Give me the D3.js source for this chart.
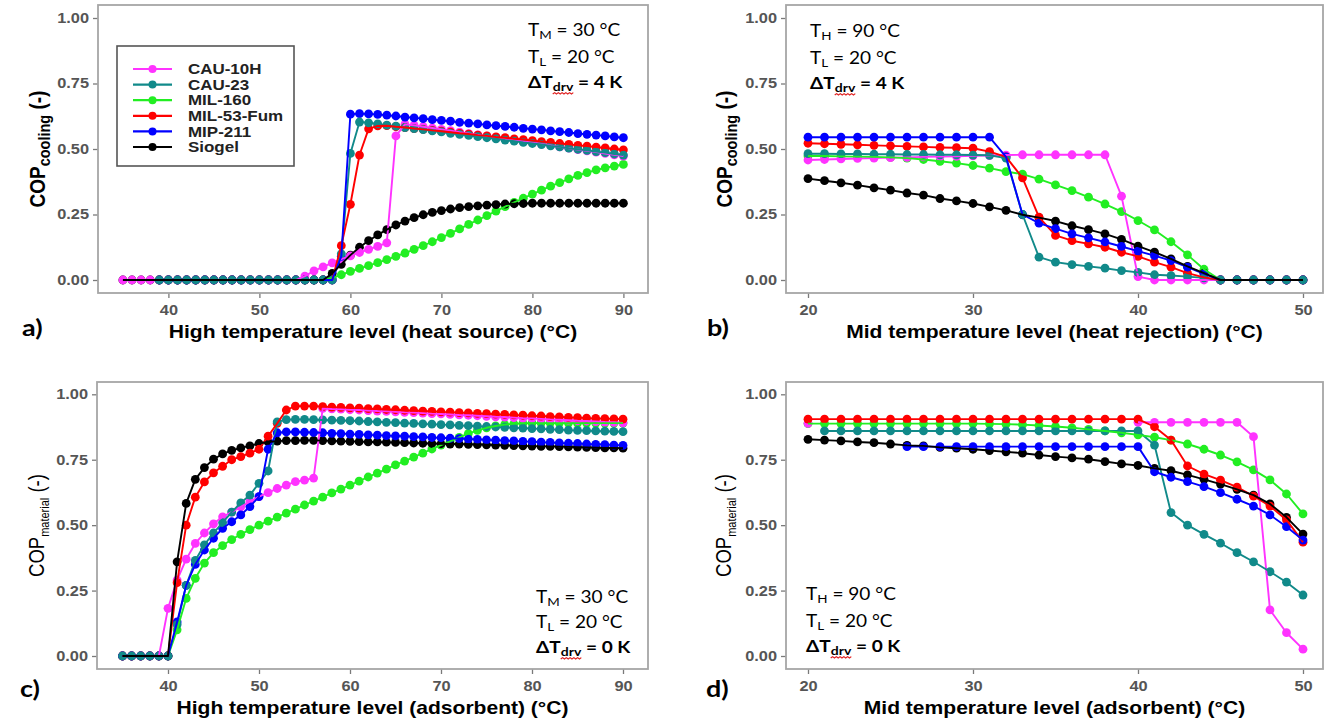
<!DOCTYPE html>
<html><head><meta charset="utf-8">
<script src="https://cdn.jsdelivr.net/npm/d3@7"></script>
<style>body{margin:0;background:#fff}</style>
</head><body>
<svg id="chart" width="1335" height="721"></svg>
<script>
// ---------------- DATA ----------------
const SERIES = ["CAU-10H","CAU-23","MIL-160","MIL-53-Fum","MIP-211","Siogel"];
const COLORS = ["#ff33ff","#118a8a","#22ee22","#ff0000","#0000ff","#000000"];
const Y_TICKS = [0,0.25,0.5,0.75,1];
const X_TICKS_HIGH = [40,50,60,70,80,90];
const X_TICKS_MID = [20,30,40,50];

const X_A = [35,36,37,38,39,40,41,42,43,44,45,46,47,48,49,50,51,52,53,54,55,56,57,58,59,60,61,62,63,64,65,66,67,68,69,70,71,72,73,74,75,76,77,78,79,80,81,82,83,84,85,86,87,88,89,90];
const X_B = [20,21,22,23,24,25,26,27,28,29,30,31,32,33,34,35,36,37,38,39,40,41,42,43,44,45,46,47,48,49,50];
const X_C = X_A;
const X_D = X_B;

// a) COP cooling vs high temperature
const A_CAU10H = [0,0,0,0,0,0,0,0,0,0, 0,0,0,0,0,0,0,0,0,0, .015,.035,.05,.065,.08,.092,.105,.117,.128,.142, .55,.594,.59,.585,.58,.575,.57,.564,.559,.554, .549,.544,.539,.534,.529,.524,.519,.514,.508,.503, .498,.493,.488,.483,.478,.473];
const A_CAU23 = [null,null,null,null, 0,0,0,0,0,0,0,0,0,0, 0,0,0,0,0,0,0,0,0,0, .10,.483,.603,.60,.596,.591,.587,.582,.578,.574, .569,.565,.56,.556,.552,.547,.543,.539,.534,.53, .525,.521,.517,.512,.508,.503,.499,.495,.49,.486, .481,.477];
const A_MIL160 = [null,null,null,null, 0,0,0,0,0,0,0,0,0,0, 0,0,0,0,0,0,0,0,0, .008,.02,.033,.044,.055,.066,.078,.09,.103,.117, .131,.146,.162,.178,.195,.212,.229,.246,.263,.28, .296,.312,.328,.343,.358,.372,.386,.399,.41,.42, .428,.435,.441];
const A_MIL53 = [null,null,null,null, 0,0,0,0,0,0,0,0,0,0, 0,0,0,0,0,0,0,0,0,0, .131,.289,.477,.577,.588,.589,.585,.582,.578,.575, .571,.568,.564,.56,.557,.553,.55,.546,.543,.539, .536,.532,.528,.525,.521,.518,.514,.511,.507,.504, .5,.497];
const A_MIP211 = [null,null,null,null, 0,0,0,0,0,0,0,0,0,0, 0,0,0,0,0,0,0,0,0,0, .09,.633,.635,.634,.632,.629,.626,.622,.619,.616, .612,.609,.606,.602,.599,.596,.592,.589,.586,.583, .579,.576,.573,.569,.566,.563,.559,.556,.553,.55, .546,.543];
const A_SIOGEL = [0,0,0,0,0,0,0,0,0,0, 0,0,0,0,0,0,0,0,0,0, 0,0,0, .025,.06,.095,.125,.15,.172,.192,.21,.225,.238, .249,.258,.265,.271,.276,.28,.283,.286,.288,.29, .291,.292,.293,.293,.293,.293,.293,.293,.293,.293, .293,.293,.293];

// b) COP cooling vs mid temperature
const B_CAU10H = [.458,.46,.462,.464,.465,.467,.468,.47,.471,.472, .474,.475,.477,.478,.478,.478,.478,.478,.478,.32, .013,0,0,0,0,0,0,0,0,0, 0];
const B_CAU23 = [.482,.482,.481,.481,.48,.48,.479,.479,.478,.478, .477,.476,.465,.25,.087,.068,.059,.052,.045,.036, .029,.02,.017,.013,.008,0,0,0,0,0, 0];
const B_MIL160 = [.473,.473,.472,.471,.47,.468,.465,.46,.453,.446, .437,.427,.414,.404,.385,.363,.341,.316,.29,.261, .227,.191,.146,.096,.041,0,0,0,0,0, 0];
const B_MIL53 = [.522,.52,.518,.516,.514,.512,.51,.508,.506,.505, .503,.49,.47,.39,.24,.17,.15,.138,.125,.106, .09,.068,.049,.026,.01,0,0,0,0,0, 0];
const B_MIP211 = [.545,.545,.545,.545,.545,.545,.545,.545,.545,.545, .545,.545,.47,.25,.217,.196,.176,.161,.145,.128, .11,.093,.074,.049,.023,0,0,0,0,0, 0];
const B_SIOGEL = [.387,.379,.371,.362,.352,.343,.332,.324,.311,.302, .292,.279,.266,.249,.238,.225,.207,.192,.176,.155, .129,.106,.081,.052,.026,0,0,0,0,0, 0];

// c) COP material vs high temperature
const C_CAU10H = [0,0,0,0,0, .182,.29,.37,.43,.47, .505,.532,.55,.57,.59, .609,.624,.64,.653,.666, .672,.68,.946,.944,.943, .941,.94,.938,.936,.935, .933,.931,.93,.928,.926, .925,.923,.921,.92,.918, .916,.914,.913,.911,.909, .908,.906,.904,.903,.901, .899,.898,.896,.894,.893, .891];
const C_CAU23 = [0,0,0,0,0, 0,.12,.27,.365,.425, .47,.51,.55,.585,.615, .66,.707,.895,.903,.904, .904,.903,.902,.901,.9, .899,.898,.896,.895,.893, .892,.89,.889,.887,.886, .884,.883,.881,.88,.878, .877,.875,.874,.872,.871, .869,.868,.866,.865,.863, .862,.861,.86,.859,.858, .857];
const C_MIL160 = [0,0,0,0,0, 0,.10,.22,.297,.355, .395,.422,.445,.465,.483, .50,.515,.531,.546,.561, .577,.592,.607,.623,.638, .653,.668,.684,.699,.714, .73,.745,.76,.775,.791, .806,.82,.835,.85,.862, .872,.879,.884,.887,.889, .89,.89,.89,.89,.89, .89,.89,.89,.89,.89, .89];
const C_MIL53 = [0,0,0,0,0, 0,.28,.50,.607,.665, .70,.725,.75,.762,.775, .79,.84,.889,.94,.955, .955,.955,.953,.951,.95, .948,.947,.945,.944,.942, .941,.939,.938,.936,.935, .933,.932,.93,.929,.927, .926,.924,.923,.921,.92, .918,.917,.915,.914,.912, .911,.909,.908,.907,.906, .905];
const C_MIP211 = [0,0,0,0,0, 0,.13,.27,.35,.405, .45,.488,.513,.539,.571, .609,.79,.853,.856,.856, .855,.854,.853,.851,.85, .848,.847,.845,.844,.842, .841,.84,.838,.837,.835, .834,.832,.831,.829,.828, .826,.825,.823,.822,.82, .819,.817,.816,.814,.813, .812,.81,.809,.808,.806, .805];
const C_SIOGEL = [0,0,0,0,0, 0,.36,.583,.675,.72, .752,.772,.786,.795,.803, .812,.818,.821,.823,.823, .824,.824,.823,.822,.821, .82,.819,.818,.818,.817, .816,.815,.814,.813,.812, .811,.81,.81,.809,.808, .807,.806,.805,.804,.803, .802,.801,.801,.8,.799, .798,.797,.796,.795,.795, .794];

// d) COP material vs mid temperature
const D_CAU10H = [.889,null,null,null,null,null,null,null,null,null, null,null,null,null,null,null,null,null,null,null, .893,.893,.893,.893,.893,.893,.893,.838,.176,.089, .026];
const D_CAU23 = [null,.86,.86,.86,.86,.86,.86,.86,.86,.86, .86,.86,.86,.86,.86,.86,.86,.86,.86,.86, .86,.806,.548,.5,.465,.431,.395,.36,.322,.282, .233];
const D_MIL160 = [.888,.888,.888,.888,.888,.888,.888,.888,.888,.888, .888,.887,.886,.884,.881,.877,.872,.866,.86,.853, .845,.836,.825,.81,.79,.768,.742,.711,.673,.619, .543];
const D_MIL53 = [.905,.905,.905,.905,.905,.905,.905,.905,.905,.905, .905,.905,.905,.905,.905,.905,.905,.905,.905,.905, .905,.876,.825,.726,.695,.672,.645,.611,.573,.52, .435];
const D_MIP211 = [null,null,null,null,null,null,.8,.8,.8,.8, .8,.8,.8,.8,.8,.8,.8,.8,.8,.8, .8,.704,.683,.666,.647,.624,.599,.573,.539,.494, .443];
const D_SIOGEL = [.828,.825,.822,.818,.815,.81,.805,.803,.797,.794, .79,.785,.78,.775,.768,.762,.757,.752,.743,.734, .728,.717,.708,.692,.675,.657,.637,.615,.581,.53, .466];

// ---------------- LAYOUT ----------------
const SX = 1.17;               // horizontal text stretch of the original image
const SANS = "'Liberation Sans', Arial, sans-serif";
const CAL = "Lato, 'Open Sans', sans-serif";
const POINT_ORDER = [2,5,0,3,4,1];
const LINE_ORDER = [0,1,2,3,4,5];

const panels = [
  {x:X_A, ys:[A_CAU10H,A_CAU23,A_MIL160,A_MIL53,A_MIP211,A_SIOGEL], xd:[35,90], xr:[122.9,623.4], yr:[280,18],
   box:[98,5,648,293], xt:X_TICKS_HIGH, xTitle:"High temperature level (heat source) (°C)", xTitleY:338,
   yKind:"cooling", yTitleX:45, letter:"a)", lx:22, ly:336,
   ann:{x:528, ys:[36,63,88], a:["T","M"," = 30 °C"], b:["T","L"," = 20 °C"], dT:"4"}, legend:true},
  {x:X_B, ys:[B_CAU10H,B_CAU23,B_MIL160,B_MIL53,B_MIP211,B_SIOGEL], xd:[20,50], xr:[808,1303], yr:[280,18],
   box:[786,5,1323,293], xt:X_TICKS_MID, xTitle:"Mid temperature level (heat rejection) (°C)", xTitleY:338,
   yKind:"cooling", yTitleX:732, letter:"b)", lx:707, ly:336,
   ann:{x:810, ys:[37,64,89], a:["T","H"," = 90 °C"], b:["T","L"," = 20 °C"], dT:"4"}},
  {x:X_C, ys:[C_CAU10H,C_CAU23,C_MIL160,C_MIL53,C_MIP211,C_SIOGEL], xd:[35,90], xr:[122.5,623], yr:[656,394.3],
   box:[97,382,648,669], xt:X_TICKS_HIGH, xTitle:"High temperature level (adsorbent) (°C)", xTitleY:714,
   yKind:"material", yTitleX:44, letter:"c)", lx:20, ly:697,
   ann:{x:536, ys:[603,628,653], a:["T","M"," = 30 °C"], b:["T","L"," = 20 °C"], dT:"0"}},
  {x:X_D, ys:[D_CAU10H,D_CAU23,D_MIL160,D_MIL53,D_MIP211,D_SIOGEL], xd:[20,50], xr:[808,1303], yr:[656,394.3],
   box:[786,382,1323,669], xt:X_TICKS_MID, xTitle:"Mid temperature level (adsorbent) (°C)", xTitleY:714,
   yKind:"material", yTitleX:731, letter:"d)", lx:706, ly:697,
   ann:{x:806, ys:[600,627,652], a:["T","H"," = 90 °C"], b:["T","L"," = 20 °C"], dT:"0"}}
];

const svg = d3.select("#chart");
svg.append("rect").attr("width",1335).attr("height",721).attr("fill","#fff");

function stretch(sel){
  sel.each(function(){
    const t = d3.select(this);
    const x = +t.attr("x") || 0, y = +t.attr("y") || 0;
    t.attr("x",0).attr("y",0).attr("transform",`translate(${x},${y}) scale(${SX},1)`);
  });
}
function stext(parent, x, y){
  return parent.append("g").attr("transform",`translate(${x},${y}) scale(${SX},1)`).append("text");
}

panels.forEach(p => {
  const g = svg.append("g");
  const x = d3.scaleLinear().domain(p.xd).range(p.xr);
  const y = d3.scaleLinear().domain([0,1]).range(p.yr);
  const [bx0,by0,bx1,by1] = p.box;

  // axes
  const ya = g.append("g").attr("transform",`translate(${bx0},0)`)
    .call(d3.axisLeft(y).tickValues(Y_TICKS).tickFormat(d3.format(".2f")).tickSize(5).tickPadding(4));
  const xa = g.append("g").attr("transform",`translate(0,${by1})`)
    .call(d3.axisBottom(x).tickValues(p.xt).tickFormat(d3.format("d")).tickSize(5).tickPadding(7));
  [ya,xa].forEach(a => {
    a.select(".domain").remove();
    a.selectAll("line").attr("stroke","#7a7a7a").attr("stroke-width",1.3);
    a.selectAll("text").attr("font-family",SANS).attr("font-weight","bold").attr("font-size",14).attr("fill","#555");
    stretch(a.selectAll("text"));
  });

  // panel border
  g.append("rect").attr("x",bx0).attr("y",by0).attr("width",bx1-bx0).attr("height",by1-by0)
    .attr("fill","none").attr("stroke","#a6a6a6").attr("stroke-width",1.8);

  // data
  const rows = p.ys.map(arr => arr.map((v,i) => ({t:p.x[i], v})));
  POINT_ORDER.forEach(si => {
    g.append("g").selectAll("circle").data(rows[si].filter(d => d.v !== null)).join("circle")
      .attr("cx", d => x(d.t)).attr("cy", d => y(d.v)).attr("r",4.4).attr("fill",COLORS[si]);
  });
  const line = d3.line().defined(d => d.v !== null).x(d => x(d.t)).y(d => y(d.v));
  LINE_ORDER.forEach(si => {
    g.append("path").datum(rows[si]).attr("d",line).attr("fill","none")
      .attr("stroke",COLORS[si]).attr("stroke-width",1.9).attr("stroke-linejoin","round");
  });

  // x title
  stext(g,(bx0+bx1)/2,p.xTitleY).attr("text-anchor","middle").attr("font-family",SANS)
    .attr("font-weight","bold").attr("font-size",18).attr("fill","#000").text(p.xTitle);

  // y title (rotated)
  const cy = (by0+by1)/2;
  const yt = g.append("g").attr("transform",`translate(${p.yTitleX},${cy}) rotate(-90) scale(1,${SX})`)
    .append("text").attr("text-anchor","middle").attr("font-family",SANS).attr("fill","#000");
  if (p.yKind === "cooling") {
    yt.attr("font-weight","bold").attr("font-size",19);
    yt.append("tspan").text("COP");
    yt.append("tspan").attr("font-size",14.5).attr("dy",4).text("cooling");
    yt.append("tspan").attr("dy",-4).text(" (-)");
  } else {
    yt.attr("font-size",18.5);
    yt.append("tspan").text("COP");
    yt.append("tspan").attr("font-size",11).attr("dy",4).text("material");
    yt.append("tspan").attr("dy",-4).text("  (-)");
  }

  // panel letter
  stext(g,p.lx,p.ly).attr("font-family",CAL).attr("font-weight","bold").attr("font-size",23).attr("fill","#000").text(p.letter);

  // annotation
  const A = p.ann;
  [A.a, A.b].forEach((parts,k) => {
    const t = stext(g,A.x,A.ys[k]).attr("font-family",CAL).attr("font-size",16.3).attr("fill","#000");
    t.append("tspan").text(parts[0]);
    t.append("tspan").attr("font-size",11.5).attr("dy",3).text(parts[1]);
    t.append("tspan").attr("dy",-3).text(parts[2]);
  });
  const t3 = stext(g,A.x,A.ys[2]).attr("font-family",CAL).attr("font-size",16.3).attr("font-weight","bold").attr("fill","#000");
  t3.append("tspan").text("ΔT");
  t3.append("tspan").attr("font-size",12).attr("dy",3).text("drv");
  t3.append("tspan").attr("dy",-3).text(" = " + A.dT + " K");
  const node = t3.node();
  const s = node.getStartPositionOfChar(2), e = node.getEndPositionOfChar(4);
  let d = `M${s.x},${s.y+3}`, up = true;
  for (let xx = s.x + 1.6; xx <= e.x + 0.5; xx += 1.6) { d += ` L${xx},${s.y + (up ? 1.6 : 3)}`; up = !up; }
  d3.select(node.parentNode).append("path").attr("d",d).attr("fill","none").attr("stroke","#e02020").attr("stroke-width",1);

  // legend
  if (p.legend) {
    const lg = g.append("g");
    lg.append("rect").attr("x",117).attr("y",46).attr("width",177).attr("height",120)
      .attr("fill","#fff").attr("stroke","#555").attr("stroke-width",1.6);
    SERIES.forEach((name,i) => {
      const yy = 69 + i*15.6;
      lg.append("line").attr("x1",133).attr("x2",172).attr("y1",yy).attr("y2",yy)
        .attr("stroke",COLORS[i]).attr("stroke-width",2.2);
      lg.append("circle").attr("cx",152.5).attr("cy",yy).attr("r",4).attr("fill",COLORS[i]);
      stext(lg,188,yy).attr("dy","0.36em").attr("font-family",SANS).attr("font-weight","bold")
        .attr("font-size",14.5).attr("fill","#222").text(name);
    });
  }
});
</script>
</body></html>
